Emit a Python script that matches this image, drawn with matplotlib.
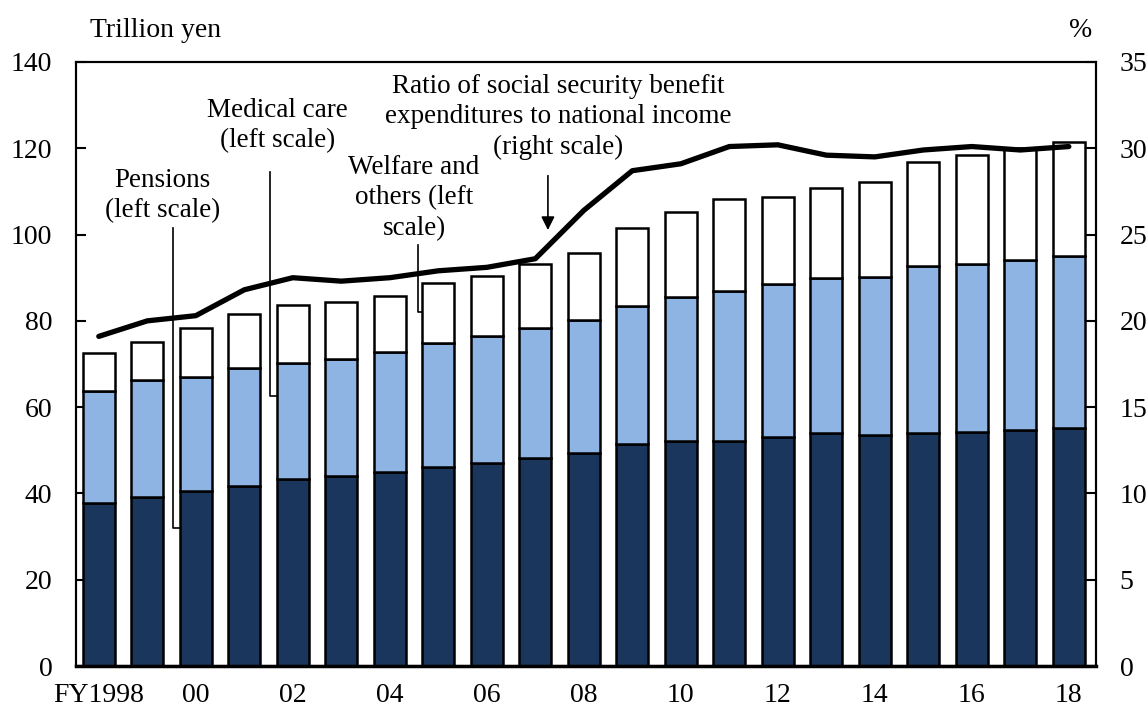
import matplotlib.pyplot as plt
import numpy as np

plt.rcParams['font.family'] = ['Liberation Serif', 'DejaVu Serif']

# FY1998 .. FY2018
years = list(range(1998, 2019))
pensions = [37.8, 39.2, 40.6, 41.7, 43.3, 44.0, 45.0, 46.1, 47.0, 48.2, 49.3,
            51.5, 52.2, 52.2, 53.1, 54.0, 53.5, 54.0, 54.3, 54.7, 55.2]
medical_top = [63.7, 66.3, 67.0, 69.1, 70.2, 71.2, 72.8, 74.9, 76.5, 78.4, 80.2,
               83.5, 85.5, 86.9, 88.5, 89.9, 90.2, 92.7, 93.2, 94.1, 95.0]
total = [72.5, 75.1, 78.3, 81.6, 83.7, 84.4, 85.8, 88.8, 90.4, 93.2, 95.7,
         101.5, 105.2, 108.3, 108.7, 110.8, 112.2, 116.8, 118.4, 120.1, 121.5]
ratio = [19.1, 20.0, 20.3, 21.8, 22.5, 22.3, 22.5, 22.9, 23.1, 23.6, 26.4,
         28.7, 29.1, 30.1, 30.2, 29.6, 29.5, 29.9, 30.1, 29.9, 30.1]
tick_labels = ['FY1998', '00', '02', '04', '06', '08', '10', '12', '14', '16', '18']

pensions = np.array(pensions)
medical = np.array(medical_top) - pensions
welfare = np.array(total) - np.array(medical_top)

fig = plt.figure(figsize=(11.48, 7.09), dpi=100)
ax = fig.add_axes([0.0662, 0.0606, 0.8885, 0.852])
x = np.arange(len(years))
w = 0.66
ax.bar(x, pensions, w, color='#1a365d', edgecolor='black', linewidth=1.8, zorder=2)
ax.bar(x, medical, w, bottom=pensions, color='#8eb4e3', edgecolor='black', linewidth=1.8, zorder=2)
ax.bar(x, welfare, w, bottom=medical_top, color='white', edgecolor='black', linewidth=1.8, zorder=2)

ax.set_xlim(-0.47, 20.56)
ax.set_ylim(0, 140)
ax.set_yticks(range(0, 141, 20))
ax.set_xticks(x[::2])
ax.set_xticklabels(tick_labels)
ax.tick_params(axis='x', length=0, labelsize=20, pad=12)
ax.tick_params(axis='y', direction='in', length=7, width=1.5, labelsize=20, pad=17)
for s in ax.spines.values():
    s.set_linewidth(1.5)
ax.spines['bottom'].set_linewidth(2.5)

ax2 = ax.twinx()
ax2.plot(x, ratio, color='black', linewidth=3.8, zorder=5, solid_capstyle='round')
ax2.set_ylim(0, 35)
ax2.set_yticks(range(0, 36, 5))
ax2.tick_params(axis='y', direction='in', length=7, width=1.5, labelsize=20, pad=17)
for s in ax2.spines.values():
    s.set_linewidth(1.5)

# unit labels
fig.text(90 / 1148, 1 - 37 / 709, 'Trillion yen', fontsize=20, va='baseline', ha='left')
fig.text(1081 / 1148, 1 - 37 / 709, '%', fontsize=20, va='baseline', ha='center')

# annotations and leader lines
ax.text(1.32, 109, 'Pensions\n(left scale)', fontsize=19.5, ha='center', va='center', linespacing=1.28)
ax.plot([1.526, 1.526, 1.67], [101.5, 32, 32], color='black', linewidth=1.2, zorder=3)

ax.text(3.69, 125.2, 'Medical care\n(left scale)', fontsize=19.5, ha='center', va='center', linespacing=1.28)
ax.plot([3.53, 3.53, 3.67], [114.5, 62.6, 62.6], color='black', linewidth=1.2, zorder=3)

ax.text(6.5, 108.5, 'Welfare and\nothers (left\nscale)', fontsize=19.5, ha='center', va='center', linespacing=1.28)
ax.plot([6.58, 6.58, 6.67], [97.6, 82, 82], color='black', linewidth=1.2, zorder=3)

ax.text(9.48, 127.3, 'Ratio of social security benefit\nexpenditures to national income\n(right scale)',
        fontsize=19.5, ha='center', va='center', linespacing=1.28)
ax.annotate('', xy=(9.26, 100.4), xytext=(9.26, 114.3),
            arrowprops=dict(arrowstyle='-|>', color='black', lw=1.2, mutation_scale=20), zorder=6)

fig.savefig('out.png', dpi=100)
